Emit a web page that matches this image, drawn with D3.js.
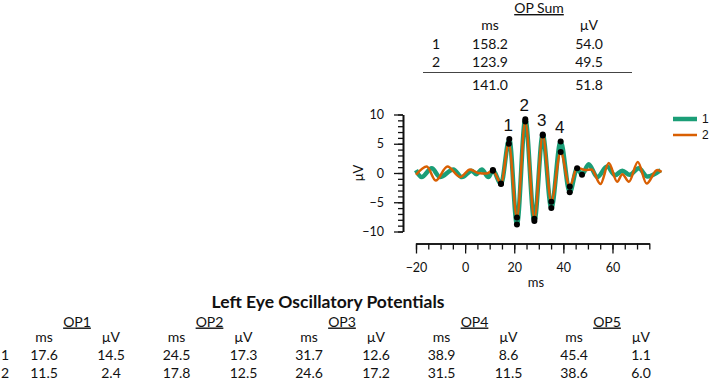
<!DOCTYPE html>
<html>
<head>
<meta charset="utf-8">
<script src="https://cdn.jsdelivr.net/npm/d3@7"></script>
<style>
  body { margin: 0; background: #fff; }
  svg text { font-family: Lato, "Open Sans", sans-serif; fill: #111; }
</style>
</head>
<body>
<svg id="chart" width="709" height="380"></svg>
<script>
// waveform, series 1 (teal): ms / uV at the turning points
const t1 = [-20, -17.7, -13.6, -10.2, -4.8, -1.3, 2.7, 4.5, 6.8, 9.5, 11.3, 14.6, 18.0, 21.1, 24.5, 28.2, 31.6, 35.1, 38.9, 42.6, 45.6, 47.6, 50.3, 53.8, 57.8, 61.0, 64.0, 67.0, 70.7, 74.2, 79.6]
const v1 = [0.5, -0.7, 0.8, -0.7, 0.6, -0.7, 0.4, -0.2, 0.6, -0.7, 0.5, -1.9, 5.8, -8.8, 9.2, -8.2, 6.6, -6.0, 5.4, -3.3, 0.8, -0.3, 1.5, -0.7, 1.1, -0.4, 0.4, -0.3, 0.8, -0.6, 0.5]
// series 2 (orange)
const t2 = [-20, -15.6, -12.0, -7.2, -2.0, 2.0, 5.3, 8.6, 11.3, 14.6, 17.8, 21.1, 24.5, 28.2, 31.6, 35.1, 38.9, 42.6, 45.6, 49.0, 51.5, 55.1, 58.5, 61.9, 64.0, 66.7, 70.3, 73.9, 78.2, 80]
const v2 = [-0.3, 1.1, -1.3, 1.1, -0.7, 0.6, 0.0, -0.1, 0.4, -1.8, 5.0, -7.6, 8.8, -7.8, 6.4, -4.9, 3.6, -2.3, 0.9, 0.5, 0.6, -1.9, 1.7, -1.5, -0.2, -1.5, 1.9, -1.8, 0.5, 0.2]

// marked points (times) on each series
const dots1 = [11.3, 14.6, 18.0, 21.1, 24.5, 28.2, 31.6, 35.1, 38.9, 42.6, 45.6, 47.6]
const dots2 = [11.3, 14.6, 17.8, 21.1, 24.5, 28.2, 31.6, 35.1, 38.9, 42.6]

// peak labels
const peakNames = ["1", "2", "3", "4"]
const peakTimes = [18.0, 24.5, 31.6, 38.9]

const seriesNames = ["1", "2"]
const colors = ["#1b9e77", "#d95f02"]

// OP sum table
const sumRows = ["1", "2"]
const sumMs = ["158.2", "123.9"]
const sumUv = ["54.0", "49.5"]
const sumTotal = ["141.0", "51.8"]

// oscillatory potentials table
const opNames = ["OP1", "OP2", "OP3", "OP4", "OP5"]
const opMs1 = ["17.6", "24.5", "31.7", "38.9", "45.4"]
const opUv1 = ["14.5", "17.3", "12.6", "8.6", "1.1"]
const opMs2 = ["11.5", "17.8", "24.6", "31.5", "38.6"]
const opUv2 = ["2.4", "12.5", "17.2", "11.5", "6.0"]

const svg = d3.select("#chart")

let x = d3.scaleLinear().domain([-20, 80]).range([416, 661.6])
let y = d3.scaleLinear().domain([-10, 10]).range([231.5, 114.5])

let s1 = t1.map((t, i) => ({t: t, v: v1[i]}))
let s2 = t2.map((t, i) => ({t: t, v: v2[i]}))
let lookup = (s, t) => s.find(d => d.t === t)

let line = d3.line()
  .x(d => x(d.t))
  .y(d => y(d.v))
  .curve(d3.curveMonotoneX)

// ---- axes
let yMinor = d3.axisLeft(y).tickValues(d3.range(-10, 11, 1)).tickSize(5).tickFormat("").tickSizeOuter(0)
let yMajor = d3.axisLeft(y).tickValues([-10, -5, 0, 5, 10]).tickSize(9).tickPadding(10).tickSizeOuter(0)

let yg = svg.append("g").attr("transform", "translate(403,0)")
yg.append("g").call(yMinor)
yg.append("g").call(yMajor)

let xa = x.copy().domain([-20, 75]).range([x(-20), x(75)])
let xMinor = d3.axisBottom(xa).tickValues(d3.range(-20, 76, 5)).tickSize(6).tickFormat("").tickSizeOuter(0)
let xMajor = d3.axisBottom(xa).tickValues([-20, 0, 20, 40, 60]).tickSize(10).tickPadding(10).tickSizeOuter(0)

let xg = svg.append("g").attr("transform", "translate(0,243.5)")
xg.append("g").call(xMinor)
xg.append("g").call(xMajor)

svg.selectAll(".domain").attr("stroke", "#111").attr("stroke-width", 1.6)
svg.selectAll(".tick line").attr("stroke", "#111").attr("stroke-width", 1.3)
svg.selectAll(".tick text").attr("font-size", 12.5).attr("fill", "#222")
  .style("font-family", "Lato, sans-serif")

svg.append("text")
  .attr("x", 536).attr("y", 287)
  .attr("text-anchor", "middle").attr("font-size", 13)
  .text("ms")

svg.append("text")
  .attr("transform", "translate(363,173) rotate(-90)")
  .attr("text-anchor", "middle").attr("font-size", 13)
  .text("μV")

// ---- traces
svg.append("path").datum(s1)
  .attr("d", line).attr("fill", "none")
  .attr("stroke", colors[0]).attr("stroke-width", 4.5)
svg.append("path").datum(s2)
  .attr("d", line).attr("fill", "none")
  .attr("stroke", colors[1]).attr("stroke-width", 2.5)

let dotData = dots1.map(t => lookup(s1, t)).concat(dots2.map(t => lookup(s2, t)))
svg.selectAll("circle.pt")
  .data(dotData)
  .enter()
  .append("circle")
  .attr("class", "pt")
  .attr("cx", d => x(d.t))
  .attr("cy", d => y(d.v))
  .attr("r", 3)
  .attr("fill", "#000")

svg.selectAll("text.peak")
  .data(peakNames)
  .enter()
  .append("text")
  .attr("class", "peak")
  .attr("x", (d, i) => x(peakTimes[i]) - 1)
  .attr("y", (d, i) => y(lookup(s1, peakTimes[i]).v) - 8)
  .attr("text-anchor", "middle")
  .attr("font-size", 17)
  .style("font-family", "'Liberation Sans', Arial, sans-serif")
  .text(d => d)

// ---- legend
let lg = svg.append("g")
seriesNames.forEach((n, i) => {
  lg.append("line")
    .attr("x1", 673).attr("x2", 697)
    .attr("y1", 119 + i * 16).attr("y2", 119 + i * 16)
    .attr("stroke", colors[i]).attr("stroke-width", i == 0 ? 4.5 : 2.5)
  lg.append("text")
    .attr("x", 702).attr("y", 123 + i * 16)
    .attr("font-size", 12)
    .style("font-family", "'Liberation Sans', Arial, sans-serif")
    .text(n)
})

// ---- OP sum table
let sumG = svg.append("g").attr("font-size", 14)
sumG.append("text").attr("x", 539).attr("y", 13).attr("text-anchor", "middle")
  .style("text-decoration", "underline").text("OP Sum")
sumG.append("text").attr("x", 490).attr("y", 30).attr("text-anchor", "middle").text("ms")
sumG.append("text").attr("x", 589).attr("y", 30).attr("text-anchor", "middle").text("μV")
sumRows.forEach((r, i) => {
  let yy = 48.5 + i * 18.5
  sumG.append("text").attr("x", 436).attr("y", yy).attr("text-anchor", "middle").text(r)
  sumG.append("text").attr("x", 490).attr("y", yy).attr("text-anchor", "middle").text(sumMs[i])
  sumG.append("text").attr("x", 589).attr("y", yy).attr("text-anchor", "middle").text(sumUv[i])
})
sumG.append("line").attr("x1", 423).attr("x2", 632).attr("y1", 72.5).attr("y2", 72.5)
  .attr("stroke", "#444").attr("stroke-width", 1)
sumG.append("text").attr("x", 490).attr("y", 90).attr("text-anchor", "middle").text(sumTotal[0])
sumG.append("text").attr("x", 589).attr("y", 90).attr("text-anchor", "middle").text(sumTotal[1])

// ---- OP table
let opG = svg.append("g").attr("font-size", 14)
opG.append("text")
  .attr("x", 328).attr("y", 307.5)
  .attr("text-anchor", "middle")
  .attr("font-size", 17.5).attr("font-weight", "bold")
  .text("Left Eye Oscillatory Potentials")

let opX = d3.scaleLinear().domain([0, 4]).range([77, 607])
opNames.forEach((op, i) => {
  let c = opX(i)
  opG.append("text").attr("x", c).attr("y", 326.5).attr("text-anchor", "middle")
    .style("text-decoration", "underline").text(op)
  opG.append("text").attr("x", c - 33).attr("y", 341.5).attr("text-anchor", "middle").text("ms")
  opG.append("text").attr("x", c + 34).attr("y", 341.5).attr("text-anchor", "middle").text("μV")
  opG.append("text").attr("x", c - 33).attr("y", 359.5).attr("text-anchor", "middle").text(opMs1[i])
  opG.append("text").attr("x", c + 34).attr("y", 359.5).attr("text-anchor", "middle").text(opUv1[i])
  opG.append("text").attr("x", c - 33).attr("y", 377.5).attr("text-anchor", "middle").text(opMs2[i])
  opG.append("text").attr("x", c + 34).attr("y", 377.5).attr("text-anchor", "middle").text(opUv2[i])
})
opG.append("text").attr("x", 5).attr("y", 359.5).attr("text-anchor", "middle").text("1")
opG.append("text").attr("x", 5).attr("y", 377.5).attr("text-anchor", "middle").text("2")
</script>
</body>
</html>
